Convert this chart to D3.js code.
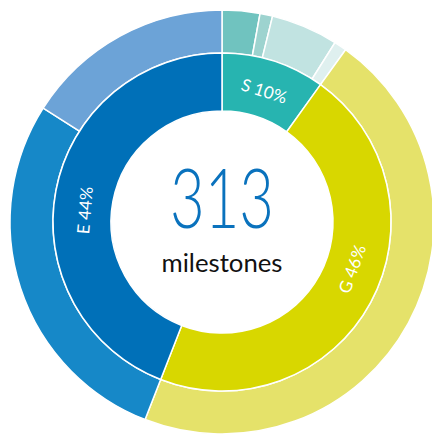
<!DOCTYPE html>
<html>
<head>
<meta charset="utf-8">
<script src="https://cdn.jsdelivr.net/npm/d3@7"></script>
<style>
  body { margin: 0; background: #fff; }
  svg { display: block; }
</style>
</head>
<body>
<div id="chart"><svg width="432" height="438"></svg></div>
<script>
// inner ring: pillars (share of 313 milestones)
const PILLARS = ['S', 'G', 'E'];
const PILLAR_COUNTS = [31, 144, 138];
const PILLAR_LABELS = ['S 10%', 'G 46%', 'E 44%'];
const PILLAR_COLORS = ['#27b4b0', '#d8d700', '#0070b8'];

// outer ring: sub groups of each pillar
const SUB_PILLAR = ['S', 'S', 'S', 'S', 'G', 'E', 'E'];
const SUB_COUNTS = [9, 3, 16, 3, 144, 88, 50];
const SUB_COLORS = ['#70c3bf', '#9dd3cf', '#c1e3e1', '#dff0ef', '#e5e26a', '#1688c8', '#6ca3d7'];

const TOTAL = 313;
const CENTER_LABEL = 'milestones';

const SVG = d3.select('#chart svg');
const CX = 222;
const CY = 222;
const R_OUT = 212;
const R_MID = 169;
const R_IN = 111;

const G = SVG.append('g').attr('transform', `translate(${CX},${CY})`);

const PIE = d3.pie().sort(null).value((d) => d);

const innerArcs = PIE(PILLAR_COUNTS);
const outerArcs = PIE(SUB_COUNTS);

const INNER_ARC = d3.arc().innerRadius(R_IN).outerRadius(R_MID);
const OUTER_ARC = d3.arc().innerRadius(R_MID).outerRadius(R_OUT);

G.append('g')
  .attr('id', 'outer')
  .selectAll('path')
  .data(outerArcs)
  .join('path')
  .attr('d', OUTER_ARC)
  .style('fill', (d, i) => SUB_COLORS[i])
  .style('stroke', '#fff')
  .style('stroke-width', 1.5);

G.append('g')
  .attr('id', 'inner')
  .selectAll('path')
  .data(innerArcs)
  .join('path')
  .attr('d', INNER_ARC)
  .style('fill', (d, i) => PILLAR_COLORS[i])
  .style('stroke', '#fff')
  .style('stroke-width', 1.5);

// labels sit along the ring, rotated to follow it
const LABEL_R = 138;
const LABEL_ANGLE_SHIFT = [0, -0.15, -0.1]; // nudges from the mid angle, radians
G.append('g')
  .attr('id', 'labels')
  .selectAll('text')
  .data(innerArcs)
  .join('text')
  .each((d, i, n) => {
    const a = (d.startAngle + d.endAngle) / 2 + LABEL_ANGLE_SHIFT[i];
    const x = LABEL_R * Math.sin(a);
    const y = -LABEL_R * Math.cos(a);
    let deg = (a * 180) / Math.PI;
    if (deg > 90 && deg < 270) deg -= 180;
    if (deg >= 270) deg -= 360;
    d3.select(n[i])
      .attr('transform', `translate(${x},${y}) rotate(${deg})`)
      .attr('text-anchor', 'middle')
      .attr('dominant-baseline', 'central')
      .text(PILLAR_LABELS[i]);
  })
  .style('fill', '#fff')
  .style('font-family', 'Lato, sans-serif')
  .style('font-size', '17px');

G.append('text')
  .text(TOTAL)
  .attr('x', 0)
  .attr('y', 6)
  .attr('text-anchor', 'middle')
  .attr('textLength', 104)
  .attr('lengthAdjust', 'spacingAndGlyphs')
  .style('fill', '#0a72bd')
  .style('font-family', 'Lato, sans-serif')
  .style('font-weight', 300)
  .style('font-size', '83px');

G.append('text')
  .text(CENTER_LABEL)
  .attr('x', 0)
  .attr('y', 50)
  .attr('text-anchor', 'middle')
  .attr('textLength', 121)
  .attr('lengthAdjust', 'spacingAndGlyphs')
  .style('fill', '#111')
  .style('font-family', 'Lato, sans-serif')
  .style('font-size', '25px');
</script>
</body>
</html>
